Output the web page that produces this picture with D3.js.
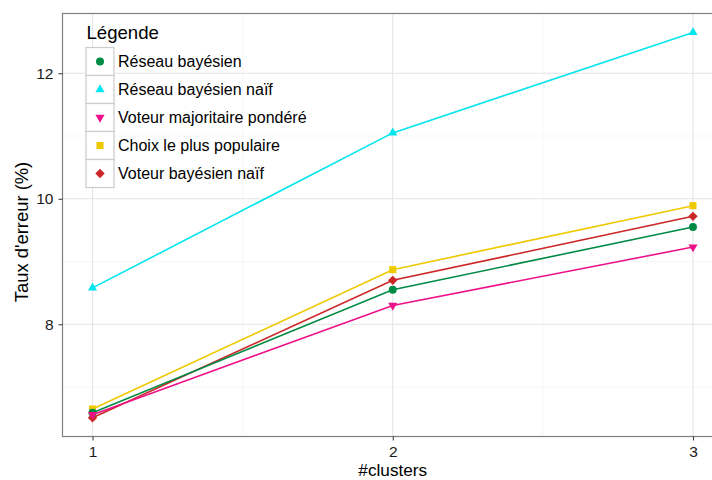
<!DOCTYPE html>
<html><head><meta charset="utf-8">
<script src="https://cdn.jsdelivr.net/npm/d3@7"></script>
<style>body{margin:0;background:#fff}svg{display:block;font-family:"Liberation Sans",Arial,sans-serif}</style>
</head><body><svg id="c" width="712" height="480"></svg>
<script>
const clusters = [1, 2, 3];
const seriesNames = ["Réseau bayésien", "Réseau bayésien naïf", "Voteur majoritaire pondéré", "Choix le plus populaire", "Voteur bayésien naïf"];
const reseauBayesien = [6.59, 8.55, 9.55];
const reseauBayesienNaif = [8.58, 11.05, 12.65];
const voteurMajoritaire = [6.56, 8.30, 9.23];
const choixPopulaire = [6.65, 8.87, 9.89];
const voteurBayesienNaif = [6.51, 8.70, 9.72];
const yTicks = [8, 10, 12];
const xTicks = [1, 2, 3];
const colors = ["#008B45", "#00E5EE", "#EE1289", "#EEC900", "#CD2626"];
const symbols = ["circle", "triangle", "triangleDown", "square", "diamond"];

const values = [reseauBayesien, reseauBayesienNaif, voteurMajoritaire, choixPopulaire, voteurBayesienNaif];
const series = seriesNames.map((n, i) => ({name: n, color: colors[i], sym: symbols[i], pts: clusters.map((c, j) => ({x: c, y: values[i][j]}))}));

const svg = d3.select("#c");
const L = 62.5, R = 723, T = 13.5, B = 436.5;
const x = d3.scaleLinear().domain([0.9, 3.1]).range([L, R]);
const y = d3.scaleLinear().domain([6.2115, 12.9522]).range([B, T]);

// grid
const g = svg.append("g");
[1.5, 2.5].forEach(v => g.append("line").attr("x1", x(v)).attr("x2", x(v)).attr("y1", T).attr("y2", B).attr("stroke", "#f2f2f2").attr("stroke-width", 0.6));
[7, 9, 11].forEach(v => g.append("line").attr("x1", L).attr("x2", R).attr("y1", y(v)).attr("y2", y(v)).attr("stroke", "#f2f2f2").attr("stroke-width", 0.6));
xTicks.forEach(v => g.append("line").attr("x1", x(v)).attr("x2", x(v)).attr("y1", T).attr("y2", B).attr("stroke", "#e5e5e5").attr("stroke-width", 1.1));
yTicks.forEach(v => g.append("line").attr("x1", L).attr("x2", R).attr("y1", y(v)).attr("y2", y(v)).attr("stroke", "#e5e5e5").attr("stroke-width", 1.1));

// lines & points
const line = d3.line().x(d => x(d.x)).y(d => y(d.y));
const symMap = {
  circle: d3.symbol().type(d3.symbolCircle).size(50),
  square: d3.symbol().type(d3.symbolSquare).size(50),
  diamond: d3.symbol().type(d3.symbolDiamond2).size(56),
  triangle: d3.symbol().type(d3.symbolTriangle2).size(60),
  triangleDown: d3.symbol().type(d3.symbolTriangle2).size(60)
};
function symPath(s) { return symMap[s](); }
const drawOrder = [1, 3, 4, 0, 2];
drawOrder.forEach(i => {
  const s = series[i];
  svg.append("path").datum(s.pts).attr("d", line).attr("fill", "none").attr("stroke", s.color).attr("stroke-width", 1.6);
});
drawOrder.forEach(i => {
  const s = series[i];
  svg.selectAll(null).data(s.pts).enter().append("path")
    .attr("d", symPath(s.sym))
    .attr("transform", d => `translate(${x(d.x)},${y(d.y)})` + (s.sym === "triangleDown" ? " rotate(180)" : ""))
    .attr("fill", s.color);
});

// panel border
svg.append("rect").attr("x", L).attr("y", T).attr("width", R - L).attr("height", B - T).attr("fill", "none").attr("stroke", "#7f7f7f").attr("stroke-width", 1.2);

// axes
const xAxis = svg.append("g").attr("transform", `translate(0,${B})`).call(d3.axisBottom(x).tickValues(xTicks).tickFormat(d3.format("d")).tickSize(4).tickPadding(5.5));
const yAxis = svg.append("g").attr("transform", `translate(${L},0)`).call(d3.axisLeft(y).tickValues(yTicks).tickFormat(d3.format("d")).tickSize(4).tickPadding(5));
[xAxis, yAxis].forEach(a => {
  a.select(".domain").remove();
  a.selectAll("line").attr("stroke", "#333").attr("stroke-width", 1);
  a.selectAll("text").attr("font-size", 15.5).attr("fill", "#1a1a1a").attr("font-family", "Liberation Sans, Arial, sans-serif");
});

svg.append("text").attr("x", (L + 723) / 2).attr("y", 476).attr("text-anchor", "middle").attr("font-size", 17.2).attr("fill", "#000").text("#clusters");
svg.append("text").attr("transform", `translate(28,232) rotate(-90)`).attr("text-anchor", "middle").attr("font-size", 18.4).attr("fill", "#000").text("Taux d'erreur (%)");

// legend
const lg = svg.append("g");
lg.append("text").attr("x", 86.5).attr("y", 39).attr("font-size", 18.6).attr("fill", "#000").text("Légende");
series.forEach((s, i) => {
  const cy = 61.5 + i * 28;
  lg.append("rect").attr("x", 86).attr("y", cy - 14).attr("width", 28).attr("height", 28).attr("fill", "#fff").attr("stroke", "#cccccc").attr("stroke-width", 1.2);
  lg.append("path").attr("d", symPath(s.sym)).attr("transform", `translate(100,${cy})` + (s.sym === "triangleDown" ? " rotate(180)" : "")).attr("fill", s.color);
  lg.append("text").attr("x", 118).attr("y", cy + 5.5).attr("font-size", 16).attr("fill", "#000").text(s.name);
});
</script></body></html>
